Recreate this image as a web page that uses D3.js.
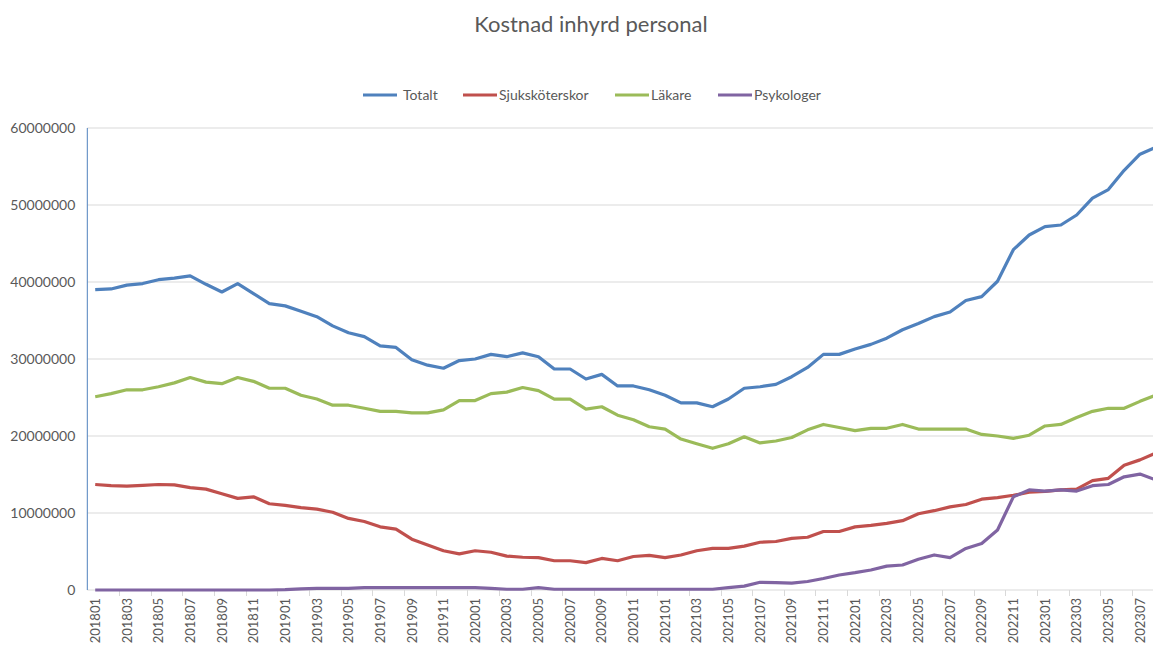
<!DOCTYPE html>
<html lang="sv">
<head>
<meta charset="UTF-8">
<title>Kostnad inhyrd personal</title>
<style>
  body { margin: 0; background: #fff; }
  text { font-family: Lato, "Open Sans", sans-serif; fill: #595959; }
</style>
</head>
<body>
<svg id="svg" width="1153" height="646"></svg>
<script src="https://d3js.org/d3.v7.min.js"></script>
<script>
// months 201801 .. 202308
const months = [
  '201801','201802','201803','201804','201805','201806','201807','201808','201809','201810','201811','201812',
  '201901','201902','201903','201904','201905','201906','201907','201908','201909','201910','201911','201912',
  '202001','202002','202003','202004','202005','202006','202007','202008','202009','202010','202011','202012',
  '202101','202102','202103','202104','202105','202106','202107','202108','202109','202110','202111','202112',
  '202201','202202','202203','202204','202205','202206','202207','202208','202209','202210','202211','202212',
  '202301','202302','202303','202304','202305','202306','202307','202308'
]

// values in millions SEK
const totalt = [39.0,39.1,39.6,39.8,40.3,40.5,40.8,39.7,38.7,39.8,
  38.5,37.2,36.9,36.2,35.5,34.3,33.4,32.9,31.7,31.5,
  29.9,29.2,28.8,29.8,30.0,30.6,30.3,30.8,30.3,28.7,
  28.7,27.4,28.0,26.5,26.5,26.0,25.3,24.3,24.3,23.8,
  24.8,26.2,26.4,26.7,27.7,28.9,30.6,30.6,31.3,31.9,
  32.7,33.8,34.6,35.5,36.1,37.6,38.1,40.1,44.2,46.1,
  47.2,47.4,48.7,50.9,52.0,54.5,56.6,57.5]

const sjukskoterskor = [13.7,13.55,13.5,13.6,13.7,13.65,13.3,13.1,12.5,11.9,
  12.1,11.2,11.0,10.7,10.5,10.1,9.3,8.9,8.2,7.9,
  6.6,5.85,5.1,4.7,5.1,4.9,4.4,4.25,4.2,3.8,
  3.8,3.55,4.1,3.8,4.35,4.5,4.2,4.55,5.1,5.4,
  5.4,5.7,6.2,6.3,6.7,6.85,7.6,7.6,8.2,8.4,
  8.65,9.0,9.9,10.3,10.8,11.1,11.8,12.0,12.3,12.7,
  12.8,13.0,13.1,14.2,14.5,16.2,16.9,17.8]

const lakare = [25.1,25.5,26.0,26.0,26.4,26.9,27.6,27.0,26.8,27.6,
  27.1,26.2,26.2,25.3,24.8,24.0,24.0,23.6,23.2,23.2,
  23.0,23.0,23.4,24.6,24.6,25.5,25.7,26.3,25.9,24.8,
  24.8,23.5,23.8,22.7,22.1,21.2,20.9,19.6,19.0,18.4,
  19.0,19.9,19.1,19.35,19.8,20.8,21.5,21.1,20.7,21.0,
  21.0,21.5,20.9,20.9,20.9,20.9,20.2,20.0,19.7,20.1,
  21.3,21.5,22.4,23.2,23.6,23.6,24.5,25.3]

const psykologer = [0,0,0,0,0,0,0,0,0,0,
  0,0,0.05,0.15,0.2,0.2,0.2,0.3,0.3,0.3,
  0.3,0.3,0.3,0.3,0.3,0.2,0.1,0.1,0.3,0.1,
  0.1,0.1,0.1,0.1,0.1,0.1,0.1,0.1,0.1,0.1,
  0.3,0.5,1.0,0.95,0.9,1.1,1.5,1.95,2.25,2.6,
  3.1,3.25,4.0,4.55,4.2,5.4,6.05,7.8,12.1,13.0,
  12.85,13.0,12.85,13.55,13.7,14.7,15.05,14.3]

const yTicks = [0, 10000000, 20000000, 30000000, 40000000, 50000000, 60000000]

const series = [
  { name: 'Totalt', values: totalt, color: '#4f81bd' },
  { name: 'Sjuksköterskor', values: sjukskoterskor, color: '#c0504d' },
  { name: 'Läkare', values: lakare, color: '#9bbb59' },
  { name: 'Psykologer', values: psykologer, color: '#8064a2' }
]

const svg = d3.select('#svg')
const plotLeft = 87.3, bandW = 15.83
const plotTop = 128, plotBottom = 590

const x = d3.scaleBand()
  .domain(months)
  .range([plotLeft, plotLeft + months.length * bandW])
const y = d3.scaleLinear()
  .domain([0, 60000000])
  .range([plotBottom, plotTop])

// gridlines
svg.append('g')
  .selectAll('line')
  .data(yTicks.slice(1))
  .join('line')
  .attr('x1', plotLeft).attr('x2', 1153)
  .attr('y1', d => y(d)).attr('y2', d => y(d))
  .attr('stroke', '#d9d9d9').attr('stroke-width', 1)

// y labels
const yAxis = svg.append('g')
  .attr('transform', `translate(${plotLeft},0)`)
  .call(d3.axisLeft(y).tickValues(yTicks).tickSize(0).tickPadding(12).tickFormat(d3.format('d')))
yAxis.select('.domain').remove()
yAxis.selectAll('text').style('font-size', '14px').attr('fill', '#595959')

// x axis line + boundary ticks
svg.append('line')
  .attr('x1', plotLeft).attr('x2', 1153)
  .attr('y1', plotBottom).attr('y2', plotBottom)
  .attr('stroke', '#d9d9d9')
svg.append('g')
  .selectAll('line')
  .data(months.filter((d, i) => i % 2 === 0 && i > 0))
  .join('line')
  .attr('x1', d => Math.round(x(d)) + 0.5).attr('x2', d => Math.round(x(d)) + 0.5)
  .attr('y1', plotBottom).attr('y2', plotBottom + 6)
  .attr('stroke', '#d9d9d9')

// month labels, rotated, every second month
const xAxis = svg.append('g')
  .attr('transform', `translate(0,${plotBottom})`)
  .call(d3.axisBottom(x).tickValues(months.filter((d, i) => i % 2 === 0)).tickSize(0))
xAxis.select('.domain').remove()
xAxis.selectAll('text')
  .style('font-size', '13px')
  .attr('fill', '#595959')
  .attr('transform', 'rotate(-90)')
  .attr('text-anchor', 'end')
  .attr('x', -8).attr('y', 0).attr('dy', '0.36em')

// y axis line (blue, as in the original)
svg.append('line')
  .attr('x1', plotLeft).attr('x2', plotLeft)
  .attr('y1', plotTop).attr('y2', plotBottom)
  .attr('stroke', '#4f81bd').attr('stroke-width', 1)

// lines
const line = d3.line()
  .x((d, i) => x(months[i]) + x.bandwidth() / 2)
  .y(d => y(d * 1000000))

svg.append('g')
  .selectAll('path')
  .data(series)
  .join('path')
  .attr('d', d => line(d.values))
  .attr('fill', 'none')
  .attr('stroke', d => d.color)
  .attr('stroke-width', 3.2)
  .attr('stroke-linejoin', 'round')

// title
svg.append('text')
  .attr('x', 591).attr('y', 32)
  .attr('text-anchor', 'middle')
  .style('font-size', '22px')
  .text('Kostnad inhyrd personal')

// legend
const legendX = [363, 463, 615, 718]
const legend = svg.append('g')
  .selectAll('g')
  .data(series)
  .join('g')
  .attr('transform', (d, i) => `translate(${legendX[i]},95)`)
legend.append('line')
  .attr('x1', 0).attr('x2', 34)
  .attr('stroke', d => d.color).attr('stroke-width', 3.2)
legend.append('text')
  .attr('x', (d, i) => i === 0 ? 40 : 36).attr('y', 0).attr('dy', '0.35em')
  .style('font-size', '14px')
  .text(d => d.name)
</script>
</body>
</html>
